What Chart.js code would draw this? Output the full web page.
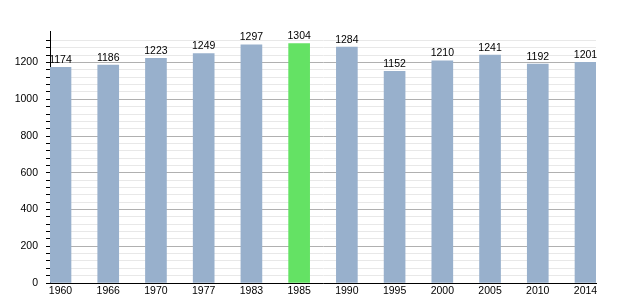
<!DOCTYPE html>
<html lang="en">
<head>
    <meta charset="UTF-8">
    <title>Population</title>
    <style>
        body {
            margin: 0;
            background: #fff;
        }
        #wrap {
            width: 625px;
            height: 300px;
        }
    </style>
    <script src="https://cdn.jsdelivr.net/npm/chart.js"></script>
</head>
<body>

<div id="wrap"><canvas id="popChart"></canvas></div>

<script>
    // Data
    const years = ['1960', '1966', '1970', '1977', '1983', '1985', '1990', '1995', '2000', '2005', '2010', '2014'];
    const population = [1174, 1186, 1223, 1249, 1297, 1304, 1284, 1152, 1210, 1241, 1192, 1201];
    const highlightYear = '1985';

    const barColor = 'rgb(152, 176, 204)';
    const greenColor = 'rgb(100, 226, 100)';
    const fontFamily = '"Liberation Sans", Arial, sans-serif';

    // Numbers over the bars
    const valueLabels = {
        id: 'valueLabels',
        afterDatasetsDraw(chart) {
            const ctx = chart.ctx;
            const meta = chart.getDatasetMeta(0);
            ctx.save();
            ctx.font = '10.5px ' + fontFamily;
            ctx.fillStyle = '#000';
            ctx.textAlign = 'center';
            ctx.textBaseline = 'bottom';
            meta.data.forEach((bar, i) => {
                ctx.fillText(String(population[i]), bar.x, bar.y - 2);
            });
            ctx.restore();
        }
    };

    const ctx = document.getElementById('popChart').getContext('2d');
    const popChart = new Chart(ctx, {
        type: 'bar',
        data: {
            datasets: [{
                data: population.map((v, i) => ({ x: i, y: v })),
                backgroundColor: years.map(y => y === highlightYear ? greenColor : barColor),
                borderWidth: 0,
                barThickness: 21
            }]
        },
        options: {
            responsive: true,
            maintainAspectRatio: false,
            animation: false,
            layout: {
                padding: { top: 31, right: 29, left: 0, bottom: 0 }
            },
            plugins: {
                legend: { display: false },
                tooltip: { enabled: false }
            },
            scales: {
                x: {
                    type: 'linear',
                    offset: false,
                    min: -0.22,
                    max: 11.22,
                    afterFit(scale) { scale.height = 17; },
                    afterBuildTicks(scale) {
                        scale.ticks = years.map((y, i) => ({ value: i }));
                    },
                    grid: { display: false, drawTicks: false, tickLength: 0 },
                    border: { display: true, color: '#000', width: 1 },
                    ticks: {
                        color: '#000',
                        padding: 2,
                        maxRotation: 0,
                        autoSkip: false,
                        font: { family: fontFamily, size: 10.5 },
                        callback: (v) => years[v] ?? ''
                    }
                },
                y: {
                    min: 0,
                    max: 1372,
                    afterFit(scale) { scale.width = 50; },
                    border: { display: true, color: '#000', width: 1 },
                    grid: {
                        color: (c) => {
                            const v = c.tick ? c.tick.value : 0;
                            if (v === 1372) return 'rgba(0,0,0,0)';
                            return v % 200 === 0 ? '#b0b0b0' : '#e8e8e8';
                        },
                        tickColor: (c) => (c.tick && c.tick.value === 1372) ? 'rgba(0,0,0,0)' : '#000',
                        tickLength: 4,
                        lineWidth: 1
                    },
                    ticks: {
                        stepSize: 40,
                        autoSkip: false,
                        color: '#000',
                        padding: 8,
                        font: { family: fontFamily, size: 10.5 },
                        callback: (v) => v % 200 === 0 ? String(v) : ''
                    }
                }
            }
        },
        plugins: [valueLabels]
    });
</script>

</body>
</html>
